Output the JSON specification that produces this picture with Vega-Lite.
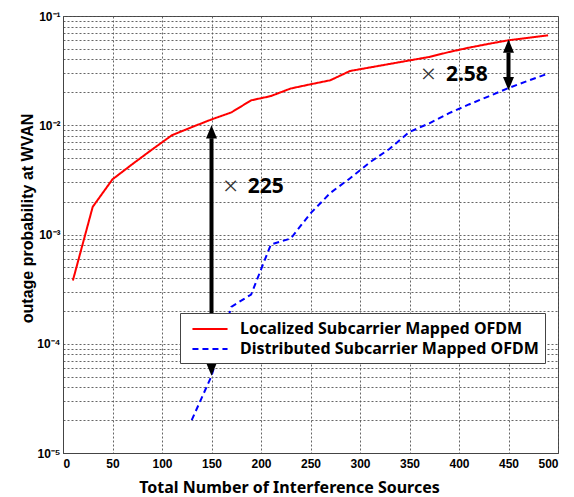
{
  "$schema": "https://vega.github.io/schema/vega-lite/v6.json",
  "width": 495,
  "height": 437,
  "autosize": "none",
  "padding": {"left": 63, "top": 16, "right": 16, "bottom": 44},
  "background": "white",
  "config": {
    "view": {"stroke": "#444", "strokeWidth": 1},
    "axis": {
      "labelFont": "Liberation Sans",
      "labelFontWeight": "bold",
      "labelFontSize": 12,
      "labelColor": "#000",
      "titleFont": "Noto Sans",
      "titleFontWeight": "bold",
      "titleColor": "#000",
      "ticks": false,
      "domainColor": "#444",
      "grid": true,
      "gridColor": "#555",
      "gridDash": [2, 2],
      "gridWidth": 1,
      "gridOpacity": 0.9
    }
  },
  "datasets": {
    "curves": [
      {"n": 10, "p": 0.00038, "s": "Localized Subcarrier Mapped OFDM"},
      {"n": 30, "p": 0.00179, "s": "Localized Subcarrier Mapped OFDM"},
      {"n": 50, "p": 0.0032, "s": "Localized Subcarrier Mapped OFDM"},
      {"n": 70, "p": 0.0044, "s": "Localized Subcarrier Mapped OFDM"},
      {"n": 90, "p": 0.006, "s": "Localized Subcarrier Mapped OFDM"},
      {"n": 110, "p": 0.0081, "s": "Localized Subcarrier Mapped OFDM"},
      {"n": 130, "p": 0.0096, "s": "Localized Subcarrier Mapped OFDM"},
      {"n": 150, "p": 0.0113, "s": "Localized Subcarrier Mapped OFDM"},
      {"n": 170, "p": 0.0131, "s": "Localized Subcarrier Mapped OFDM"},
      {"n": 190, "p": 0.0169, "s": "Localized Subcarrier Mapped OFDM"},
      {"n": 210, "p": 0.0185, "s": "Localized Subcarrier Mapped OFDM"},
      {"n": 230, "p": 0.0217, "s": "Localized Subcarrier Mapped OFDM"},
      {"n": 250, "p": 0.0237, "s": "Localized Subcarrier Mapped OFDM"},
      {"n": 270, "p": 0.0258, "s": "Localized Subcarrier Mapped OFDM"},
      {"n": 290, "p": 0.0314, "s": "Localized Subcarrier Mapped OFDM"},
      {"n": 310, "p": 0.0338, "s": "Localized Subcarrier Mapped OFDM"},
      {"n": 330, "p": 0.0364, "s": "Localized Subcarrier Mapped OFDM"},
      {"n": 350, "p": 0.0392, "s": "Localized Subcarrier Mapped OFDM"},
      {"n": 370, "p": 0.0422, "s": "Localized Subcarrier Mapped OFDM"},
      {"n": 390, "p": 0.0468, "s": "Localized Subcarrier Mapped OFDM"},
      {"n": 410, "p": 0.0513, "s": "Localized Subcarrier Mapped OFDM"},
      {"n": 430, "p": 0.0556, "s": "Localized Subcarrier Mapped OFDM"},
      {"n": 450, "p": 0.06, "s": "Localized Subcarrier Mapped OFDM"},
      {"n": 470, "p": 0.0632, "s": "Localized Subcarrier Mapped OFDM"},
      {"n": 490, "p": 0.0666, "s": "Localized Subcarrier Mapped OFDM"},
      {"n": 130, "p": 0.00002, "s": "Distributed Subcarrier Mapped OFDM"},
      {"n": 150, "p": 0.0000506, "s": "Distributed Subcarrier Mapped OFDM"},
      {"n": 170, "p": 0.000218, "s": "Distributed Subcarrier Mapped OFDM"},
      {"n": 190, "p": 0.000282, "s": "Distributed Subcarrier Mapped OFDM"},
      {"n": 210, "p": 0.00081, "s": "Distributed Subcarrier Mapped OFDM"},
      {"n": 230, "p": 0.00092, "s": "Distributed Subcarrier Mapped OFDM"},
      {"n": 250, "p": 0.00156, "s": "Distributed Subcarrier Mapped OFDM"},
      {"n": 270, "p": 0.0024, "s": "Distributed Subcarrier Mapped OFDM"},
      {"n": 290, "p": 0.00327, "s": "Distributed Subcarrier Mapped OFDM"},
      {"n": 310, "p": 0.00458, "s": "Distributed Subcarrier Mapped OFDM"},
      {"n": 330, "p": 0.0061, "s": "Distributed Subcarrier Mapped OFDM"},
      {"n": 350, "p": 0.0087, "s": "Distributed Subcarrier Mapped OFDM"},
      {"n": 370, "p": 0.0104, "s": "Distributed Subcarrier Mapped OFDM"},
      {"n": 390, "p": 0.0129, "s": "Distributed Subcarrier Mapped OFDM"},
      {"n": 410, "p": 0.0155, "s": "Distributed Subcarrier Mapped OFDM"},
      {"n": 430, "p": 0.0184, "s": "Distributed Subcarrier Mapped OFDM"},
      {"n": 450, "p": 0.0219, "s": "Distributed Subcarrier Mapped OFDM"},
      {"n": 470, "p": 0.0256, "s": "Distributed Subcarrier Mapped OFDM"},
      {"n": 490, "p": 0.0297, "s": "Distributed Subcarrier Mapped OFDM"}
    ],
    "shafts": [
      {"n": 150, "top": 0.0076, "bot": 0.000067},
      {"n": 450, "top": 0.0462, "bot": 0.0275}
    ],
    "heads": [
      {"n": 150, "p": 0.01, "d": "up"},
      {"n": 150, "p": 0.000051, "d": "down"},
      {"n": 450, "p": 0.0608, "d": "up"},
      {"n": 450, "p": 0.0209, "d": "down"}
    ],
    "times": [
      {"n": 169.4, "p": 0.00271, "t": "×"},
      {"n": 369, "p": 0.0287, "t": "×"}
    ],
    "ratios": [
      {"n": 186.5, "p": 0.00271, "t": "225"},
      {"n": 386.8, "p": 0.0287, "t": "2.58"}
    ]
  },
  "encoding": {
    "x": {
      "field": "n",
      "type": "quantitative",
      "scale": {"domain": [0, 500], "nice": false, "zero": false},
      "axis": {
        "values": [0, 50, 100, 150, 200, 250, 300, 350, 400, 450, 500],
        "title": "Total Number of Interference Sources",
        "titleFontSize": 16,
        "labelPadding": 5,
        "titleX": 226,
        "titleY": 34,
        "titleBaseline": "middle"
      }
    },
    "y": {
      "field": "p",
      "type": "quantitative",
      "scale": {"type": "log", "domain": [0.00001, 0.1], "nice": false},
      "axis": {
        "values": [0.00001, 0.00002, 0.00003, 0.00004, 0.00005, 0.00006, 0.00007, 0.00008, 0.00009,
                   0.0001, 0.0002, 0.0003, 0.0004, 0.0005, 0.0006, 0.0007, 0.0008, 0.0009,
                   0.001, 0.002, 0.003, 0.004, 0.005, 0.006, 0.007, 0.008, 0.009,
                   0.01, 0.02, 0.03, 0.04, 0.05, 0.06, 0.07, 0.08, 0.09, 0.1],
        "labelExpr": "datum.value == 0.1 ? '10⁻¹' : datum.value == 0.01 ? '10⁻²' : datum.value == 0.001 ? '10⁻³' : datum.value == 0.0001 ? '10⁻⁴' : datum.value == 0.00001 ? '10⁻⁵' : ''",
        "labelPadding": 3,
        "title": "outage probability at WVAN",
        "titleFont": "Liberation Sans",
        "titleFontSize": 16,
        "titleX": -36,
        "titleY": 202,
        "titleBaseline": "middle"
      }
    }
  },
  "layer": [
    {
      "data": {"name": "curves"},
      "mark": {"type": "line", "strokeWidth": 2, "clip": true},
      "encoding": {
        "color": {
          "field": "s",
          "type": "nominal",
          "scale": {"domain": ["Localized Subcarrier Mapped OFDM", "Distributed Subcarrier Mapped OFDM"], "range": ["#ff0000", "#0000ff"]},
          "legend": {
            "title": null,
            "orient": "none",
            "legendX": 117,
            "legendY": 297,
            "fillColor": "white",
            "strokeColor": "#444",
            "padding": 6,
            "symbolOffset": 14,
            "symbolType": "M-1.95,0L1.95,0",
            "symbolSize": 324,
            "symbolStrokeWidth": 2,
            "symbolFillColor": "transparent",
            "labelFont": "Noto Sans",
            "labelFontWeight": "bold",
            "labelFontSize": 16,
            "labelColor": "#000",
            "labelOffset": 20,
            "labelLimit": 450,
            "labelExpr": "datum.label + '\u2003\u2009'",
            "rowPadding": 2
          }
        },
        "strokeDash": {
          "field": "s",
          "type": "nominal",
          "scale": {"domain": ["Localized Subcarrier Mapped OFDM", "Distributed Subcarrier Mapped OFDM"], "range": [[1, 0], [6, 4]]},
          "legend": null
        }
      }
    },
    {
      "data": {"name": "shafts"},
      "mark": {"type": "rule", "strokeWidth": 4, "color": "black"},
      "encoding": {
        "y": {"field": "top", "type": "quantitative"},
        "y2": {"field": "bot"}
      }
    },
    {
      "data": {"name": "heads"},
      "mark": {"type": "point", "filled": true, "color": "black", "opacity": 1, "size": 484, "strokeWidth": 0},
      "encoding": {
        "shape": {
          "field": "d",
          "type": "nominal",
          "scale": {"domain": ["up", "down"], "range": ["M0,0L-0.5,1.2L0.5,1.2Z", "M0,0L-0.5,-1.2L0.5,-1.2Z"]},
          "legend": null
        }
      }
    },
    {
      "data": {"name": "times"},
      "mark": {"type": "text", "font": "Noto Sans", "fontSize": 26, "fontWeight": 300, "align": "center", "baseline": "middle", "color": "#333"},
      "encoding": {"text": {"field": "t"}}
    },
    {
      "data": {"name": "ratios"},
      "mark": {"type": "text", "font": "Noto Sans", "fontSize": 21, "fontWeight": "bold", "align": "left", "baseline": "middle", "color": "#000"},
      "encoding": {"text": {"field": "t"}}
    }
  ]
}
